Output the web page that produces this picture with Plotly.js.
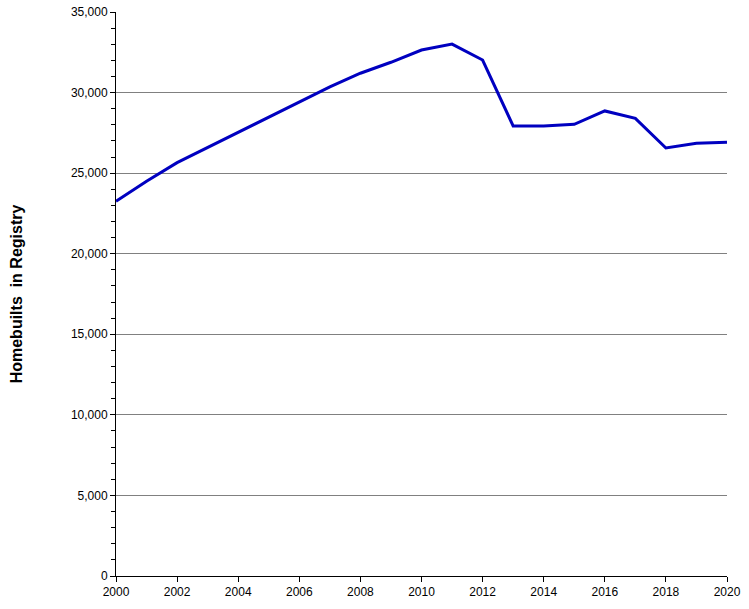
<!DOCTYPE html>
<html>
<head>
<meta charset="utf-8">
<script src="https://cdn.plot.ly/plotly-3.0.1.min.js"></script>
<style>html,body{margin:0;padding:0;background:#fff;}#chart{width:749px;height:609px;}</style>
</head>
<body>
<div id="chart"></div>
<script>
const years = [2000,2001,2002,2003,2004,2005,2006,2007,2008,2009,2010,2011,2012,2013,2014,2015,2016,2017,2018,2019,2020];
const homebuilts = [23250,24500,25650,26600,27550,28500,29400,30350,31200,31880,32640,33010,32020,27930,27930,28030,28860,28400,26560,26850,26910];
const yTitle = "Homebuilts  in Registry";

Plotly.newPlot('chart', [{
  x: years, y: homebuilts, type: 'scatter', mode: 'lines',
  line: {color: '#0000C0', width: 3}, hoverinfo: 'skip'
}], {
  width: 749, height: 609,
  margin: {l: 116, r: 22, t: 12, b: 33},
  paper_bgcolor: '#ffffff', plot_bgcolor: '#ffffff',
  showlegend: false,
  font: {family: 'Liberation Sans, Arial, sans-serif', size: 12, color: '#000'},
  xaxis: {
    range: [2000, 2020], dtick: 2, tick0: 2000, tickformat: 'd',
    showgrid: false, zeroline: false,
    showline: true, linecolor: '#000', linewidth: 1,
    ticks: 'outside', ticklen: 5, tickcolor: '#000',
    tickfont: {size: 12}
  },
  yaxis: {
    range: [0, 35000], dtick: 5000, tickformat: ',d',
    showgrid: true, gridcolor: '#808080', gridwidth: 1,
    zeroline: false,
    showline: true, linecolor: '#000', linewidth: 1,
    ticks: 'outside', ticklen: 5, tickcolor: '#000',
    tickfont: {size: 12},
    minor: {dtick: 1000, ticks: 'outside', ticklen: 4, tickcolor: '#000', showgrid: false},
    title: {text: yTitle, font: {size: 16, family: 'Liberation Sans, Arial, sans-serif', weight: 'bold'}, standoff: 44}
  }
}, {staticPlot: true});
</script>
</body>
</html>
